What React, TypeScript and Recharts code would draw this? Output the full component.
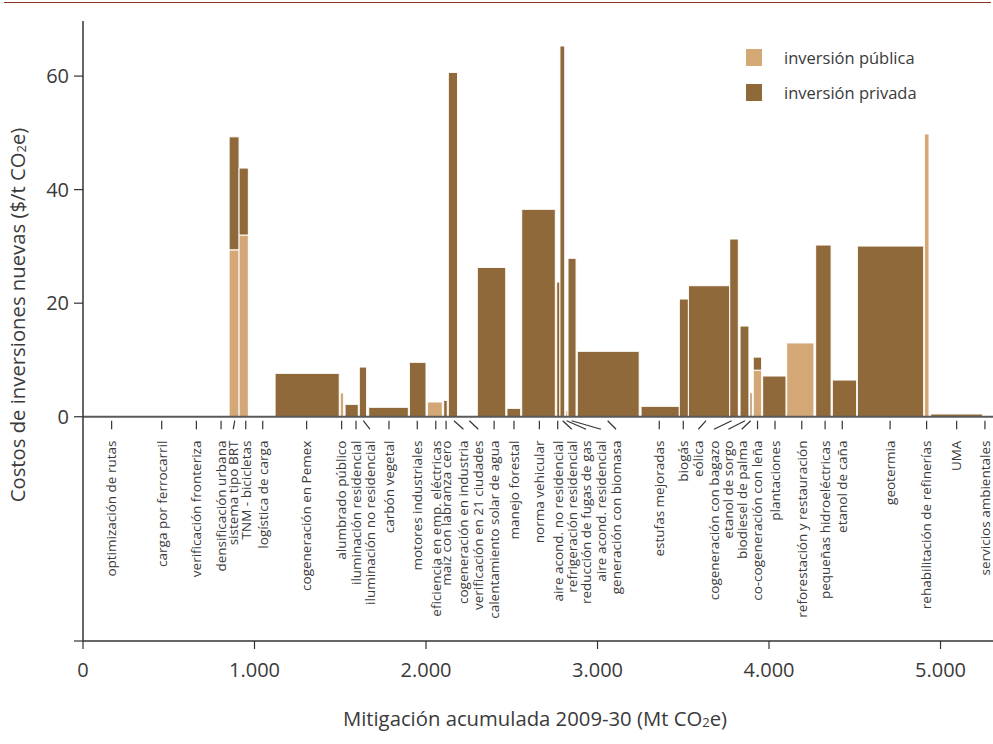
import React from 'react';
import { ComposedChart, XAxis, YAxis, ReferenceArea, ReferenceLine, ReferenceDot, Legend } from 'recharts';

const measures = [
  'optimización de rutas', 'carga por ferrocarril', 'verificación fronteriza', 'densificación urbana',
  'sistema tipo BRT', 'TNM - bicicletas', 'logística de carga', 'cogeneración en Pemex',
  'alumbrado público', 'iluminación residencial', 'iluminación no residencial', 'carbón vegetal',
  'motores industriales', 'eficiencia en emp. eléctricas', 'maíz con labranza cero', 'cogeneración en industria',
  'verificación en 21 ciudades', 'calentamiento solar de agua', 'manejo forestal', 'norma vehicular',
  'aire acond. no residencial', 'refrigeración residencial', 'reducción de fugas de gas', 'aire acond. residencial',
  'generación con biomasa', 'estufas mejoradas', 'biogás', 'eólica',
  'cogeneración con bagazo', 'etanol de sorgo', 'biodiesel de palma', 'co-cogeneración con leña',
  'plantaciones', 'reforestación y restauración', 'pequeñas hidroeléctricas', 'etanol de caña',
  'geotermia', 'rehabilitación de refinerías', 'UMA', 'servicios ambientales',
];

// cumulative mitigation (Mt CO2e) where each measure starts and ends
const mitStart = [
  0, 334, 584, 738, 852, 910, 964, 1120,
  1500, 1528, 1611, 1666, 1903, 2008, 2103, 2130,
  2184, 2299, 2472, 2558, 2762, 2781, 2815, 2828,
  2882, 3254, 3477, 3530, 3771, 3831, 3889, 3908,
  3963, 4103, 4272, 4369, 4515, 4906, 4943, 5246,
];
const mitEnd = [
  334, 584, 738, 852, 910, 964, 1120, 1494,
  1520, 1605, 1654, 1897, 2000, 2095, 2124, 2184,
  2297, 2465, 2552, 2754, 2781, 2809, 2828, 2875,
  3243, 3477, 3530, 3771, 3821, 3883, 3901, 3957,
  4099, 4262, 4362, 4511, 4902, 4933, 5246, 5306,
];
// costs of new investment ($/t CO2e)
const publicCost = [
  0, 0, 0, 0, 29.4, 32.0, 0, 0,
  4.2, 0, 0, 0, 0, 2.6, 0, 0,
  0, 0, 0, 0, 0, 0, 1.05, 0,
  0, 0, 0, 0, 0, 0, 0, 8.2,
  0, 13.0, 0, 0, 0, 49.8, 0, 0,
];
const privateCost = [
  0, 0, 0, 0, 19.9, 11.8, 0, 7.64,
  0, 2.18, 8.75, 1.66, 9.58, 0, 2.89, 60.65,
  0, 26.3, 1.48, 36.53, 23.72, 65.3, 0, 27.9,
  11.52, 1.83, 20.73, 23.07, 31.3, 15.97, 4.23, 2.3,
  7.17, 0, 30.24, 6.46, 30.06, 0, 0.48, 0,
];
// where each label's leader line leaves the axis, and where its text sits
const labelAnchor = [
  167, 459, 661, 805, 885, 949, 1048, 1304,
  1508, 1592, 1634, 1784, 1949, 2057, 2117, 2163,
  2253, 2397, 2513, 2661, 2768, 2797, 2820, 2849,
  3059, 3360, 3500, 3633, 3782, 3860, 3893, 3933,
  4035, 4191, 4327, 4427, 4706, 4919, 5094, 5259,
];
const labelPos = [
  167, 459, 661, 805, 876, 949, 1048, 1304,
  1508, 1592, 1673, 1784, 1949, 2057, 2117, 2218,
  2305, 2397, 2513, 2661, 2768, 2850, 2933, 3020,
  3108, 3360, 3500, 3588, 3679, 3763, 3841, 3933,
  4035, 4191, 4327, 4427, 4706, 4919, 5094, 5259,
];

const xTicks = [0, 1000, 2000, 3000, 4000, 5000];
const yTicks = [-39.5, 0, 20, 40, 60];
const legendItems = ['inversión pública', 'inversión privada'];

const PUBLIC = '#D4A876';
const PRIVATE = '#8F6939';
const TEXT = '#3a3a3a';
const FONT = '"Open Sans", "Noto Sans", sans-serif';

const chartData = measures.map((m, i) => ({ name: m, x: mitStart[i], y: publicCost[i] + privateCost[i] }));

const YTitle = (props: any) => {
  const vb = props && props.viewBox ? props.viewBox : { x: 0, y: 21, width: 83, height: 620 };
  const cx = vb.x + 17;
  const cy = vb.y + vb.height / 2 - 16;
  return (
    <text x={cx} y={cy} transform={`rotate(-90 ${cx} ${cy})`} textAnchor="middle" dominantBaseline="central"
      fontSize={20.3} fill={TEXT} fontFamily={FONT}>
      Costos de inversiones nuevas ($/t CO<tspan fontSize={13} dy={4}>2</tspan><tspan dy={-4}>e)</tspan>
    </text>
  );
};

const XTitle = (props: any) => {
  const vb = props && props.viewBox ? props.viewBox : { x: 83, y: 641, width: 910, height: 103 };
  const cx = vb.x + vb.width / 2 - 3;
  const cy = vb.y + 77;
  return (
    <text x={cx} y={cy} textAnchor="middle" dominantBaseline="central" fontSize={20.3} fill={TEXT} fontFamily={FONT}>
      Mitigación acumulada 2009-30 (Mt CO<tspan fontSize={13} dy={4}>2</tspan><tspan dy={-4}>e)</tspan>
    </text>
  );
};

const makeLabel = (name: string) => (p: any) => {
  const cx = p.cx;
  const cy = p.cy;
  return (
    <text x={cx} y={cy} dy="0.36em" transform={`rotate(-90 ${cx} ${cy})`} textAnchor="end"
      fontSize={13.5} fill={TEXT} fontFamily={FONT}>
      {name}
    </text>
  );
};

const LegendContent = () => (
  <div style={{ fontFamily: FONT, fontSize: 16.5, color: TEXT }}>
    {legendItems.map((t, i) => (
      <div key={t} style={{ display: 'flex', alignItems: 'center', height: 35 }}>
        <span style={{ display: 'inline-block', width: 16, height: 17, background: i === 0 ? PUBLIC : PRIVATE, marginRight: 22 }} />
        <span>{t}</span>
      </div>
    ))}
  </div>
);

export default function App() {
  const areas: any[] = [];
  measures.forEach((m, i) => {
    if (publicCost[i] > 0) {
      areas.push(
        <ReferenceArea key={'p' + i} x1={mitStart[i]} x2={mitEnd[i]} y1={0} y2={publicCost[i]}
          fill={PUBLIC} fillOpacity={1} stroke="#ffffff" strokeWidth={1} ifOverflow="visible" />
      );
    }
    if (privateCost[i] > 0) {
      areas.push(
        <ReferenceArea key={'v' + i} x1={mitStart[i]} x2={mitEnd[i]} y1={publicCost[i]} y2={publicCost[i] + privateCost[i]}
          fill={PRIVATE} fillOpacity={1} stroke="#ffffff" strokeWidth={1} ifOverflow="visible" />
      );
    }
  });

  return (
    <div style={{ position: 'absolute', left: 0, top: 0, width: 993, height: 744, background: '#fff' }}>
      <div style={{ position: 'absolute', left: 4, top: 2, width: 987, height: 0, borderTop: '1.5px solid #8a3a22' }} />
      <ComposedChart width={993} height={744} data={chartData} margin={{ top: 21, right: 0, bottom: 0, left: 0 }}>
        <XAxis type="number" dataKey="x" domain={[0, 5306]} allowDataOverflow ticks={xTicks}
          tickFormatter={(v: number) => (v === 0 ? '0' : `${v / 1000}.000`)}
          height={103} tickSize={8} tickMargin={14}
          axisLine={{ stroke: '#333', strokeWidth: 1.5 }} tickLine={{ stroke: '#333', strokeWidth: 1.2 }}
          tick={{ fontSize: 20, fill: TEXT, fontFamily: FONT }}
          label={<XTitle />} />
        <YAxis type="number" domain={[-39.5, 69.7]} allowDataOverflow ticks={yTicks}
          tickFormatter={(v: number) => (v < -1 ? '' : String(v))}
          width={83} tickSize={9} tickMargin={5}
          axisLine={{ stroke: '#333', strokeWidth: 1.5 }} tickLine={{ stroke: '#333', strokeWidth: 1.2 }}
          tick={{ fontSize: 20, fill: TEXT, fontFamily: FONT }}
          label={<YTitle />} />
        {areas}
        <ReferenceLine y={0} stroke="#5a5a5a" strokeWidth={2} />
        {measures.map((m, i) => (
          <ReferenceLine key={'l' + i} segment={[{ x: labelAnchor[i], y: -0.7 }, { x: labelPos[i], y: -2.2 }]}
            stroke="#333" strokeWidth={1.2} ifOverflow="visible" />
        ))}
        {measures.map((m, i) => (
          <ReferenceDot key={'t' + i} x={labelPos[i]} y={-4.2} r={0} ifOverflow="visible" shape={makeLabel(m)} />
        ))}
        <Legend layout="vertical" align="center" verticalAlign="middle"
          wrapperStyle={{ position: 'absolute', left: 746, top: 40, width: 220 }}
          content={() => <LegendContent />} />
      </ComposedChart>
    </div>
  );
}
